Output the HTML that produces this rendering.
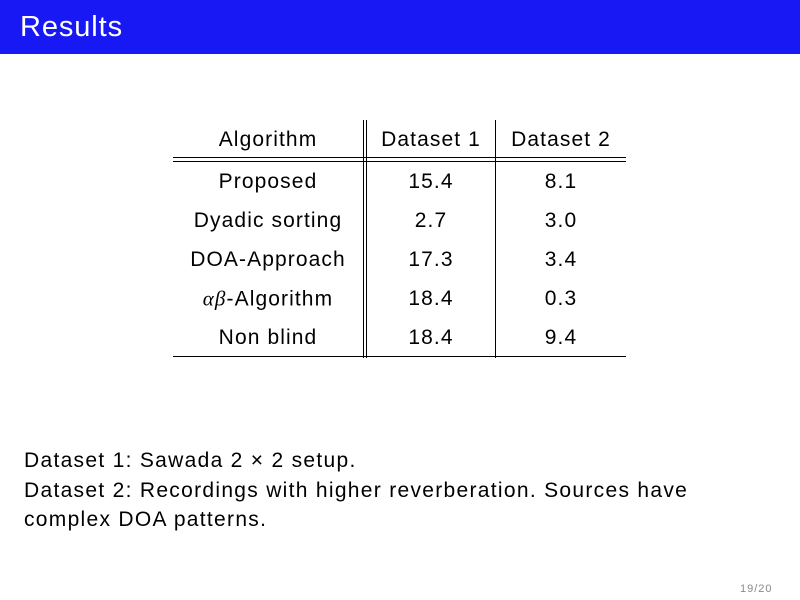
<!DOCTYPE html>
<html><head><style>
body{margin:0;width:800px;height:600px;background:#fff;position:relative;overflow:hidden;font-family:"Liberation Sans",sans-serif;color:#000}
.hdr{position:absolute;left:0;top:0;width:800px;height:54px;background:#1818f5}
.hdr span{position:absolute;left:20px;top:11px;color:#fff;font-size:29px;letter-spacing:0.9px}
.t{position:absolute;font-size:21px;white-space:nowrap;transform:translate(-50%,-50%);letter-spacing:1.1px}
.l{position:absolute;background:#000}
.p{position:absolute;left:24px;font-size:21px;white-space:nowrap;letter-spacing:1.3px}
</style></head><body>
<div class="hdr"><span>Results</span></div>
<div class="l" style="left:363px;top:120px;width:1px;height:238px"></div>
<div class="l" style="left:366px;top:120px;width:1px;height:238px"></div>
<div class="l" style="left:495px;top:120px;width:1px;height:238px"></div>
<div class="l" style="left:173px;top:157px;width:453px;height:1px"></div>
<div class="l" style="left:173px;top:161px;width:453px;height:1px"></div>
<div class="l" style="left:173px;top:356px;width:453px;height:1px"></div>
<div class="t" style="left:268px;top:140px">Algorithm</div>
<div class="t" style="left:431px;top:140px">Dataset 1</div>
<div class="t" style="left:561px;top:140px">Dataset 2</div>
<div class="t" style="left:268px;top:182px">Proposed</div><div class="t" style="left:431px;top:182px">15.4</div><div class="t" style="left:561px;top:182px">8.1</div>
<div class="t" style="left:268px;top:221px">Dyadic sorting</div><div class="t" style="left:431px;top:221px">2.7</div><div class="t" style="left:561px;top:221px">3.0</div>
<div class="t" style="left:268px;top:260px">DOA-Approach</div><div class="t" style="left:431px;top:260px">17.3</div><div class="t" style="left:561px;top:260px">3.4</div>
<div class="t" style="left:268px;top:299px"><i style="font-family:'Liberation Serif',serif">αβ</i>-Algorithm</div><div class="t" style="left:431px;top:299px">18.4</div><div class="t" style="left:561px;top:299px">0.3</div>
<div class="t" style="left:268px;top:338px">Non blind</div><div class="t" style="left:431px;top:338px">18.4</div><div class="t" style="left:561px;top:338px">9.4</div>
<div class="p" style="top:449px">Dataset 1: Sawada 2 × 2 setup.</div>
<div class="p" style="top:479px">Dataset 2: Recordings with higher reverberation. Sources have</div>
<div class="p" style="top:508px">complex DOA patterns.</div>
<div style="position:absolute;left:740px;top:583px;font-size:11px;color:#888;letter-spacing:1px">19/20</div>
</body></html>
